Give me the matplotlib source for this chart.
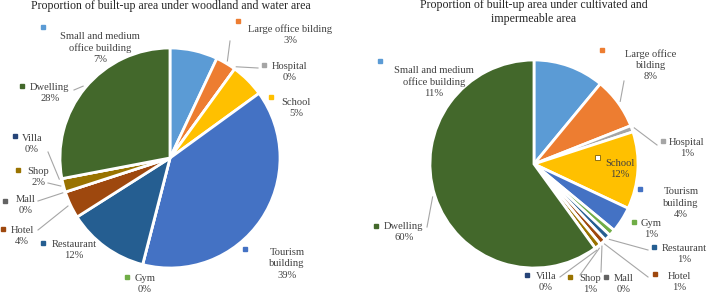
import matplotlib
matplotlib.use("Agg")
import matplotlib.pyplot as plt
import numpy as np

# ---------------- data ----------------
categories = ["Small and medium office building", "Large office bilding", "Hospital",
              "School", "Tourism building", "Gym", "Restaurant", "Hotel", "Mall",
              "Shop", "Villa", "Dwelling"]
woodland_values = [7, 3, 0, 5, 39, 0, 12, 4, 0, 2, 0, 28]
cultivated_values = [11, 8, 1, 12, 4, 1, 1, 1, 0, 1, 0, 60]
titles = ["Proportion of built-up area under woodland and water area",
          "Proportion of built-up area under cultivated and\nimpermeable area"]
colors = ["#5B9BD5", "#ED7D31", "#A5A5A5", "#FFC000", "#4472C4", "#70AD47",
          "#255E91", "#9E480E", "#636363", "#997300", "#264478", "#43682B"]

# ---------------- layout (pixel coords, y down) ----------------
W, H = 708, 294
left_labels = ["Small and medium\noffice building", "Large office bilding", "Hospital",
               "School", "Tourism\nbuilding", "Gym", "Restaurant", "Hotel", "Mall",
               "Shop", "Villa", "Dwelling"]
right_labels = ["Small and medium\noffice building", "Large office\nbilding", "Hospital",
                "School", "Tourism\nbuilding", "Gym", "Restaurant", "Hotel", "Mall",
                "Shop", "Villa", "Dwelling"]
# (text center x, text center y, marker x, marker y, line start or None)
left_layout = [
    (100, 48, 43, 27, None),
    (290, 35, 238, 21, (230, 41)),
    (290, 72, 264, 65, (258, 68)),
    (296, 108, 271, 97, None),
    (287, 264, 245, 249, None),
    (145, 284, 127, 277, None),
    (74, 250, 43, 243, None),
    (22, 236, 3, 229, (38, 230)),
    (26, 205, 5, 201, (38, 201)),
    (38, 177, 18, 170, (48, 183)),
    (32, 144, 15, 136, (48, 152)),
    (50, 93, 22, 86, (74, 90)),
]
right_layout = [
    (434, 82, 380, 61, None),
    (651, 65, 602, 50, (624, 81)),
    (687, 148, 663, 141, (657, 145)),
    (620, 169, 597, 157, None),
    (681, 203, 640, 189, None),
    (651, 229, 634, 222, None),
    (684, 254, 654, 247, (648, 250)),
    (679, 282, 655, 274, (648, 277)),
    (624, 284, 606, 277, (601, 272)),
    (590, 284, 570, 277, (580, 275)),
    (546, 282, 527, 275, (560, 277)),
    (404, 232, 376, 226, (427, 227)),
]
pies = [
    dict(values=woodland_values, labels=left_labels, layout=left_layout,
         center=(170, 158), radius=110, title_xy=(171, 6)),
    dict(values=cultivated_values, labels=right_labels, layout=right_layout,
         center=(534, 164), radius=104, title_xy=(534, 12)),
]

SERIF = ["Liberation Serif", "DejaVu Serif"]
TXT = "#404040"
LINE = "#A6A6A6"
EXPLODE = 0.025

fig = plt.figure(figsize=(W / 100, H / 100), dpi=100)
ax = fig.add_axes([0, 0, 1, 1])


def Y(py):
    return H - py


for k, p in enumerate(pies):
    vals = np.array(p["values"], dtype=float)
    total = vals.sum()
    cx, cy = p["center"]
    r = p["radius"]
    ax.pie(vals, colors=colors, startangle=90, counterclock=False,
           center=(cx, Y(cy)), radius=r, explode=[EXPLODE] * len(vals),
           wedgeprops=dict(edgecolor="white", linewidth=2.0), normalize=True)
    cum = np.concatenate([[0], np.cumsum(vals)])
    for i, lab in enumerate(p["labels"]):
        tx, ty, mx, my, ls = p["layout"][i]
        pct = int(round(vals[i] / total * 100))
        ax.text(tx, Y(ty), f"{lab}\n{pct}%", ha="center", va="center",
                fontsize=7.6, color=TXT, family=SERIF, linespacing=1.3)
        if k == 1 and i == 3:
            ax.plot(mx, Y(my), marker="s", ms=3.6, mfc="white", mec="#7F6000", mew=0.6)
        else:
            ax.plot(mx, Y(my), marker="s", ms=3, mfc=colors[i], mec=colors[i])
        if ls is not None:
            mid = (cum[i] + cum[i + 1]) / 2
            th = np.deg2rad(90 - 360 * mid / total)
            rr = r * (1 + EXPLODE)
            ex, ey = cx + rr * np.cos(th), Y(cy) + rr * np.sin(th)
            ax.plot([ls[0], ex], [Y(ls[1]), ey], color=LINE, lw=0.8)
    ax.text(p["title_xy"][0], Y(p["title_xy"][1]), titles[k], ha="center", va="center",
            fontsize=8.6, color="#262626", family=SERIF, linespacing=1.15)

ax.set_xlim(0, W)
ax.set_ylim(0, H)
ax.set_aspect("equal")
ax.axis("off")
fig.savefig("out.png", dpi=100)
